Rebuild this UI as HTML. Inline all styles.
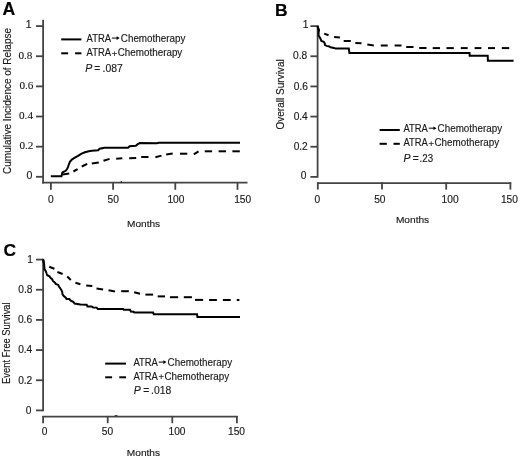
<!DOCTYPE html>
<html><head><meta charset="utf-8"><style>
html,body{margin:0;padding:0;background:#fff;}
svg{display:block;filter:blur(0.35px);}
</style></head><body>
<svg width="520" height="458" viewBox="0 0 520 458">
<rect width="520" height="458" fill="#fff"/>
<text x="2.5" y="14.9" font-family='"Liberation Sans", sans-serif' font-size="17.6" font-weight="bold" font-style="normal" text-anchor="start" fill="#000" stroke="#000" stroke-width="0.2">A</text>
<line x1="43.1" y1="19.8" x2="43.1" y2="183.6" stroke="#444444" stroke-width="1.8"/>
<line x1="42.2" y1="182.7" x2="247.5" y2="182.7" stroke="#444444" stroke-width="1.8"/>
<line x1="36.0" y1="26.1" x2="43.1" y2="26.1" stroke="#444444" stroke-width="1.8"/>
<line x1="36.0" y1="56.24" x2="43.1" y2="56.24" stroke="#444444" stroke-width="1.8"/>
<line x1="36.0" y1="86.38" x2="43.1" y2="86.38" stroke="#444444" stroke-width="1.8"/>
<line x1="36.0" y1="116.52000000000001" x2="43.1" y2="116.52000000000001" stroke="#444444" stroke-width="1.8"/>
<line x1="36.0" y1="146.66" x2="43.1" y2="146.66" stroke="#444444" stroke-width="1.8"/>
<line x1="36.0" y1="176.79999999999998" x2="43.1" y2="176.79999999999998" stroke="#444444" stroke-width="1.8"/>
<text x="32.4" y="58.64" font-family='"Liberation Serif", serif' font-size="11.2" font-weight="normal" font-style="normal" text-anchor="end" fill="#1a1a1a" stroke="#1a1a1a" stroke-width="0.12" textLength="14" lengthAdjust="spacingAndGlyphs">0.8</text>
<text x="33.4" y="88.78" font-family='"Liberation Serif", serif' font-size="11.2" font-weight="normal" font-style="normal" text-anchor="end" fill="#1a1a1a" stroke="#1a1a1a" stroke-width="0.12" textLength="14" lengthAdjust="spacingAndGlyphs">0.6</text>
<text x="33.0" y="118.92000000000002" font-family='"Liberation Serif", serif' font-size="11.2" font-weight="normal" font-style="normal" text-anchor="end" fill="#1a1a1a" stroke="#1a1a1a" stroke-width="0.12" textLength="14" lengthAdjust="spacingAndGlyphs">0.4</text>
<text x="33.4" y="149.06" font-family='"Liberation Serif", serif' font-size="11.2" font-weight="normal" font-style="normal" text-anchor="end" fill="#1a1a1a" stroke="#1a1a1a" stroke-width="0.12" textLength="14" lengthAdjust="spacingAndGlyphs">0.2</text>
<text x="31.6" y="27.7" font-family='"Liberation Sans", sans-serif' font-size="10.4" font-weight="normal" font-style="normal" text-anchor="end" fill="#1a1a1a" stroke="#1a1a1a" stroke-width="0.15">1</text>
<text x="32.4" y="178.6" font-family='"Liberation Sans", sans-serif' font-size="10.6" font-weight="normal" font-style="normal" text-anchor="end" fill="#1a1a1a" stroke="#1a1a1a" stroke-width="0.15">0</text>
<line x1="50.9" y1="182.7" x2="50.9" y2="189.8" stroke="#444444" stroke-width="1.8"/>
<line x1="113.1" y1="182.7" x2="113.1" y2="189.8" stroke="#444444" stroke-width="1.8"/>
<line x1="175.3" y1="182.7" x2="175.3" y2="189.8" stroke="#444444" stroke-width="1.8"/>
<line x1="237.50000000000003" y1="182.7" x2="237.50000000000003" y2="189.8" stroke="#444444" stroke-width="1.8"/>
<text x="50.8" y="203.0" font-family='"Liberation Sans", sans-serif' font-size="10.2" font-weight="normal" font-style="normal" text-anchor="middle" fill="#1a1a1a" stroke="#1a1a1a" stroke-width="0.15">0</text>
<text x="113.2" y="203.0" font-family='"Liberation Sans", sans-serif' font-size="10.2" font-weight="normal" font-style="normal" text-anchor="middle" fill="#1a1a1a" stroke="#1a1a1a" stroke-width="0.15">50</text>
<text x="175.9" y="203.0" font-family='"Liberation Sans", sans-serif' font-size="10.2" font-weight="normal" font-style="normal" text-anchor="middle" fill="#1a1a1a" stroke="#1a1a1a" stroke-width="0.15">100</text>
<text x="242.7" y="203.0" font-family='"Liberation Sans", sans-serif' font-size="10.2" font-weight="normal" font-style="normal" text-anchor="middle" fill="#1a1a1a" stroke="#1a1a1a" stroke-width="0.15">150</text>
<text x="127.0" y="227.2" font-family='"Liberation Sans", sans-serif' font-size="9.8" font-weight="normal" font-style="normal" text-anchor="start" fill="#1a1a1a" stroke="#1a1a1a" stroke-width="0.15" textLength="33.1" lengthAdjust="spacingAndGlyphs">Months</text>
<text x="10.9" y="173.9" font-family='"Liberation Sans", sans-serif' font-size="10.4" font-weight="normal" font-style="normal" text-anchor="start" fill="#1a1a1a" stroke="#1a1a1a" stroke-width="0.15" textLength="145.9" lengthAdjust="spacingAndGlyphs" transform="rotate(-90 10.9 173.9)">Cumulative Incidence of Relapse</text>
<line x1="61.199999999999996" y1="39.4" x2="81.4" y2="39.4" stroke="#000" stroke-width="2"/>
<line x1="61.199999999999996" y1="53.3" x2="68.10000000000001" y2="53.3" stroke="#000" stroke-width="2"/>
<line x1="75.1" y1="53.3" x2="81.4" y2="53.3" stroke="#000" stroke-width="2"/>
<text x="86.6" y="41.8" font-family='"Liberation Sans", sans-serif' font-size="10.0" font-weight="normal" font-style="normal" text-anchor="start" fill="#1a1a1a" stroke="#1a1a1a" stroke-width="0.15" textLength="24.5" lengthAdjust="spacingAndGlyphs">ATRA</text>
<line x1="111.89999999999999" y1="38.099999999999994" x2="117.49999999999999" y2="38.099999999999994" stroke="#333" stroke-width="1.25"/>
<polygon points="116.6,36.3 119.69999999999999,38.099999999999994 116.6,39.89999999999999" fill="#000"/>
<text x="120.8" y="41.8" font-family='"Liberation Sans", sans-serif' font-size="10.0" font-weight="normal" font-style="normal" text-anchor="start" fill="#1a1a1a" stroke="#1a1a1a" stroke-width="0.15" textLength="64.6" lengthAdjust="spacingAndGlyphs">Chemotherapy</text>
<text x="86.6" y="55.7" font-family='"Liberation Sans", sans-serif' font-size="10.0" font-weight="normal" font-style="normal" text-anchor="start" fill="#1a1a1a" stroke="#1a1a1a" stroke-width="0.15" textLength="24.5" lengthAdjust="spacingAndGlyphs">ATRA</text>
<text x="114.39999999999999" y="56.5" font-family='"Liberation Sans", sans-serif' font-size="9.4" font-weight="normal" font-style="normal" text-anchor="middle" fill="#1a1a1a" stroke="#1a1a1a" stroke-width="0.15">+</text>
<text x="117.69999999999999" y="55.7" font-family='"Liberation Sans", sans-serif' font-size="10.0" font-weight="normal" font-style="normal" text-anchor="start" fill="#1a1a1a" stroke="#1a1a1a" stroke-width="0.15" textLength="64.6" lengthAdjust="spacingAndGlyphs">Chemotherapy</text>
<text x="85.3" y="71.9" font-family='"Liberation Sans", sans-serif' font-size="10.5" font-weight="normal" font-style="italic" text-anchor="start" fill="#1a1a1a" stroke="#1a1a1a" stroke-width="0.15">P</text>
<text x="94.2" y="71.9" font-family='"Liberation Sans", sans-serif' font-size="10.3" font-weight="normal" font-style="normal" text-anchor="start" fill="#1a1a1a" stroke="#1a1a1a" stroke-width="0.15">=</text>
<text x="102.6" y="71.9" font-family='"Liberation Sans", sans-serif' font-size="10.5" font-weight="normal" font-style="normal" text-anchor="start" fill="#1a1a1a" stroke="#1a1a1a" stroke-width="0.15" textLength="20.3" lengthAdjust="spacingAndGlyphs">.087</text>
<polyline points="50.8,176.2 61.5,176.2 62.2,173.1 62.6,172.3 65.7,170.8 67.2,168.8 68,166.9 69.2,163.5 69.9,161.9 71.8,159.6 74.9,157.7 78,155.8 81.1,153.8 84.9,152.3 88.8,151.2 91.8,150.8 98.1,150.2 99.6,148.8 103.5,148.1 104.2,147.7 128.1,147.7 129.6,146.2 135.8,145.8 137.7,144.2 140,143.1 156.9,143.2 158.8,142.8 240,142.8" fill="none" stroke="#000" stroke-width="2.0" stroke-linejoin="miter"/>
<polyline points="62.6,174.6 69.2,173.5" fill="none" stroke="#000" stroke-width="2.0" stroke-linecap="butt"/>
<polyline points="73.4,171.5 77.6,169.2" fill="none" stroke="#000" stroke-width="2.0" stroke-linecap="butt"/>
<polyline points="81.8,166.5 87.2,163.8" fill="none" stroke="#000" stroke-width="2.0" stroke-linecap="butt"/>
<polyline points="91.8,163.6 98.8,162.4" fill="none" stroke="#000" stroke-width="2.0" stroke-linecap="butt"/>
<polyline points="103.5,160.8 109.6,158.9" fill="none" stroke="#000" stroke-width="2.0" stroke-linecap="butt"/>
<polyline points="116.2,158.7 122.3,158.2" fill="none" stroke="#000" stroke-width="2.0" stroke-linecap="butt"/>
<polyline points="129.2,158.3 136.2,158.1" fill="none" stroke="#000" stroke-width="2.0" stroke-linecap="butt"/>
<polyline points="141.2,157.0 148.5,157.0" fill="none" stroke="#000" stroke-width="2.0" stroke-linecap="butt"/>
<polyline points="155.4,157.2 161.5,155.6" fill="none" stroke="#000" stroke-width="2.0" stroke-linecap="butt"/>
<polyline points="166.2,154.6 172.7,153.6" fill="none" stroke="#000" stroke-width="2.0" stroke-linecap="butt"/>
<polyline points="180,153.7 187.3,153.7" fill="none" stroke="#000" stroke-width="2.0" stroke-linecap="butt"/>
<polyline points="193.8,154.4 198.5,151.3" fill="none" stroke="#000" stroke-width="2.0" stroke-linecap="butt"/>
<polyline points="204.8,151.3 212.1,151.3" fill="none" stroke="#000" stroke-width="2.0" stroke-linecap="butt"/>
<polyline points="218.6,151.3 226,151.3" fill="none" stroke="#000" stroke-width="2.0" stroke-linecap="butt"/>
<polyline points="232.4,151.3 239.8,151.3" fill="none" stroke="#000" stroke-width="2.0" stroke-linecap="butt"/>
<text x="275.0" y="16.1" font-family='"Liberation Sans", sans-serif' font-size="17.4" font-weight="bold" font-style="normal" text-anchor="start" fill="#000" stroke="#000" stroke-width="0.2">B</text>
<line x1="317.6" y1="25.3" x2="317.6" y2="177.6" stroke="#444444" stroke-width="1.8"/>
<line x1="310.4" y1="26.1" x2="317.6" y2="26.1" stroke="#444444" stroke-width="1.8"/>
<line x1="310.4" y1="56.260000000000005" x2="317.6" y2="56.260000000000005" stroke="#444444" stroke-width="1.8"/>
<line x1="310.4" y1="86.42" x2="317.6" y2="86.42" stroke="#444444" stroke-width="1.8"/>
<line x1="310.4" y1="116.58000000000001" x2="317.6" y2="116.58000000000001" stroke="#444444" stroke-width="1.8"/>
<line x1="310.4" y1="146.74" x2="317.6" y2="146.74" stroke="#444444" stroke-width="1.8"/>
<line x1="310.4" y1="176.9" x2="317.6" y2="176.9" stroke="#444444" stroke-width="1.8"/>
<text x="308.3" y="28.0" font-family='"Liberation Sans", sans-serif' font-size="10.2" font-weight="normal" font-style="normal" text-anchor="end" fill="#1a1a1a" stroke="#1a1a1a" stroke-width="0.15">1</text>
<text x="307.2" y="59.260000000000005" font-family='"Liberation Sans", sans-serif' font-size="10.2" font-weight="normal" font-style="normal" text-anchor="end" fill="#1a1a1a" stroke="#1a1a1a" stroke-width="0.15">0.8</text>
<text x="308.0" y="89.62" font-family='"Liberation Sans", sans-serif' font-size="10.2" font-weight="normal" font-style="normal" text-anchor="end" fill="#1a1a1a" stroke="#1a1a1a" stroke-width="0.15">0.6</text>
<text x="307.8" y="119.78000000000002" font-family='"Liberation Sans", sans-serif' font-size="10.2" font-weight="normal" font-style="normal" text-anchor="end" fill="#1a1a1a" stroke="#1a1a1a" stroke-width="0.15">0.4</text>
<text x="307.8" y="149.94" font-family='"Liberation Sans", sans-serif' font-size="10.2" font-weight="normal" font-style="normal" text-anchor="end" fill="#1a1a1a" stroke="#1a1a1a" stroke-width="0.15">0.2</text>
<text x="306.4" y="179.3" font-family='"Liberation Sans", sans-serif' font-size="10.2" font-weight="normal" font-style="normal" text-anchor="end" fill="#1a1a1a" stroke="#1a1a1a" stroke-width="0.15">0</text>
<line x1="317.0" y1="183.1" x2="511.2" y2="183.1" stroke="#444444" stroke-width="1.8"/>
<line x1="317.8" y1="182.3" x2="317.8" y2="189.6" stroke="#444444" stroke-width="1.8"/>
<line x1="382.0" y1="182.3" x2="382.0" y2="189.6" stroke="#444444" stroke-width="1.8"/>
<line x1="446.20000000000005" y1="182.3" x2="446.20000000000005" y2="189.6" stroke="#444444" stroke-width="1.8"/>
<line x1="510.40000000000003" y1="182.3" x2="510.40000000000003" y2="189.6" stroke="#444444" stroke-width="1.8"/>
<text x="317.4" y="202.8" font-family='"Liberation Sans", sans-serif' font-size="10.2" font-weight="normal" font-style="normal" text-anchor="middle" fill="#1a1a1a" stroke="#1a1a1a" stroke-width="0.15">0</text>
<text x="379.8" y="202.8" font-family='"Liberation Sans", sans-serif' font-size="10.2" font-weight="normal" font-style="normal" text-anchor="middle" fill="#1a1a1a" stroke="#1a1a1a" stroke-width="0.15">50</text>
<text x="450.1" y="202.8" font-family='"Liberation Sans", sans-serif' font-size="10.2" font-weight="normal" font-style="normal" text-anchor="middle" fill="#1a1a1a" stroke="#1a1a1a" stroke-width="0.15">100</text>
<text x="509.4" y="202.8" font-family='"Liberation Sans", sans-serif' font-size="10.2" font-weight="normal" font-style="normal" text-anchor="middle" fill="#1a1a1a" stroke="#1a1a1a" stroke-width="0.15">150</text>
<text x="395.9" y="223.2" font-family='"Liberation Sans", sans-serif' font-size="9.8" font-weight="normal" font-style="normal" text-anchor="start" fill="#1a1a1a" stroke="#1a1a1a" stroke-width="0.15" textLength="33.3" lengthAdjust="spacingAndGlyphs">Months</text>
<text x="284.5" y="129.6" font-family='"Liberation Sans", sans-serif' font-size="10.4" font-weight="normal" font-style="normal" text-anchor="start" fill="#1a1a1a" stroke="#1a1a1a" stroke-width="0.15" textLength="70.3" lengthAdjust="spacingAndGlyphs" transform="rotate(-90 284.5 129.6)">Overall Survival</text>
<line x1="379.6" y1="130.0" x2="399.8" y2="130.0" stroke="#000" stroke-width="2"/>
<line x1="379.6" y1="143.8" x2="386.8" y2="143.8" stroke="#000" stroke-width="2"/>
<line x1="393.50000000000006" y1="143.8" x2="399.8" y2="143.8" stroke="#000" stroke-width="2"/>
<text x="403.4" y="131.9" font-family='"Liberation Sans", sans-serif' font-size="10.0" font-weight="normal" font-style="normal" text-anchor="start" fill="#1a1a1a" stroke="#1a1a1a" stroke-width="0.15" textLength="24.5" lengthAdjust="spacingAndGlyphs">ATRA</text>
<line x1="428.7" y1="128.20000000000002" x2="434.3" y2="128.20000000000002" stroke="#333" stroke-width="1.25"/>
<polygon points="433.4,126.40000000000002 436.5,128.20000000000002 433.4,130.00000000000003" fill="#000"/>
<text x="437.59999999999997" y="131.9" font-family='"Liberation Sans", sans-serif' font-size="10.0" font-weight="normal" font-style="normal" text-anchor="start" fill="#1a1a1a" stroke="#1a1a1a" stroke-width="0.15" textLength="64.6" lengthAdjust="spacingAndGlyphs">Chemotherapy</text>
<text x="403.4" y="145.8" font-family='"Liberation Sans", sans-serif' font-size="10.0" font-weight="normal" font-style="normal" text-anchor="start" fill="#1a1a1a" stroke="#1a1a1a" stroke-width="0.15" textLength="24.5" lengthAdjust="spacingAndGlyphs">ATRA</text>
<text x="431.2" y="146.60000000000002" font-family='"Liberation Sans", sans-serif' font-size="9.4" font-weight="normal" font-style="normal" text-anchor="middle" fill="#1a1a1a" stroke="#1a1a1a" stroke-width="0.15">+</text>
<text x="434.5" y="145.8" font-family='"Liberation Sans", sans-serif' font-size="10.0" font-weight="normal" font-style="normal" text-anchor="start" fill="#1a1a1a" stroke="#1a1a1a" stroke-width="0.15" textLength="64.6" lengthAdjust="spacingAndGlyphs">Chemotherapy</text>
<text x="403.6" y="161.6" font-family='"Liberation Sans", sans-serif' font-size="10.5" font-weight="normal" font-style="italic" text-anchor="start" fill="#1a1a1a" stroke="#1a1a1a" stroke-width="0.15">P</text>
<text x="412.7" y="161.6" font-family='"Liberation Sans", sans-serif' font-size="10.3" font-weight="normal" font-style="normal" text-anchor="start" fill="#1a1a1a" stroke="#1a1a1a" stroke-width="0.15">=</text>
<text x="419.6" y="161.6" font-family='"Liberation Sans", sans-serif' font-size="10.5" font-weight="normal" font-style="normal" text-anchor="start" fill="#1a1a1a" stroke="#1a1a1a" stroke-width="0.15" textLength="13.5" lengthAdjust="spacingAndGlyphs">.23</text>
<polyline points="317.5,26.1 318.3,28.5 318.8,30.2 318.6,33 318.5,35.4 319.4,36.8 320.5,38.8 321.4,41 323.7,41.9 324.8,43.3 324.9,45 326.5,45.9 329.3,46.4 330.5,47.3 334,47.9 335.6,48.6 348.8,48.6 349.4,52.9 469.5,53.0 469.7,55.8 487.7,55.8 487.9,60.8 513.6,60.8" fill="none" stroke="#000" stroke-width="2.0" stroke-linejoin="miter"/>
<polyline points="317.5,26.1 318.3,28.5 318.8,30.2 319.0,31.5" fill="none" stroke="#000" stroke-width="2.0" stroke-linecap="butt"/>
<polyline points="324.2,33.6 328.6,35.2" fill="none" stroke="#000" stroke-width="2.0" stroke-linecap="butt"/>
<polyline points="334.1,36.9 339.9,37.4" fill="none" stroke="#000" stroke-width="2.0" stroke-linecap="butt"/>
<polyline points="343.7,41 350.8,41" fill="none" stroke="#000" stroke-width="2.0" stroke-linecap="butt"/>
<polyline points="355.4,42.9 361.5,43.3" fill="none" stroke="#000" stroke-width="2.0" stroke-linecap="butt"/>
<polyline points="367.3,44.5 373.8,45.4" fill="none" stroke="#000" stroke-width="2.0" stroke-linecap="butt"/>
<polyline points="380.8,45.5 387.7,45.5" fill="none" stroke="#000" stroke-width="2.0" stroke-linecap="butt"/>
<polyline points="394.6,45.5 401.5,45.5" fill="none" stroke="#000" stroke-width="2.0" stroke-linecap="butt"/>
<polyline points="406.2,47.0 413.5,47.1" fill="none" stroke="#000" stroke-width="2.0" stroke-linecap="butt"/>
<polyline points="419.2,48.0 426.5,48.1" fill="none" stroke="#000" stroke-width="2.0" stroke-linecap="butt"/>
<polyline points="432.7,48.1 440,48.1" fill="none" stroke="#000" stroke-width="2.0" stroke-linecap="butt"/>
<polyline points="446.5,48.1 453.8,48.1" fill="none" stroke="#000" stroke-width="2.0" stroke-linecap="butt"/>
<polyline points="460.8,48.1 467.7,48.1" fill="none" stroke="#000" stroke-width="2.0" stroke-linecap="butt"/>
<polyline points="474.6,48.1 481.4,48.1" fill="none" stroke="#000" stroke-width="2.0" stroke-linecap="butt"/>
<polyline points="488.0,48.1 495,48.1" fill="none" stroke="#000" stroke-width="2.0" stroke-linecap="butt"/>
<polyline points="501.8,48.1 509.2,48.1" fill="none" stroke="#000" stroke-width="2.0" stroke-linecap="butt"/>
<text x="3.4" y="255.9" font-family='"Liberation Sans", sans-serif' font-size="17.4" font-weight="bold" font-style="normal" text-anchor="start" fill="#000" stroke="#000" stroke-width="0.2">C</text>
<line x1="43.1" y1="258.8" x2="43.1" y2="411.2" stroke="#444444" stroke-width="1.8"/>
<line x1="36.0" y1="259.6" x2="43.1" y2="259.6" stroke="#444444" stroke-width="1.8"/>
<line x1="36.0" y1="289.76000000000005" x2="43.1" y2="289.76000000000005" stroke="#444444" stroke-width="1.8"/>
<line x1="36.0" y1="319.92" x2="43.1" y2="319.92" stroke="#444444" stroke-width="1.8"/>
<line x1="36.0" y1="350.08000000000004" x2="43.1" y2="350.08000000000004" stroke="#444444" stroke-width="1.8"/>
<line x1="36.0" y1="380.24" x2="43.1" y2="380.24" stroke="#444444" stroke-width="1.8"/>
<line x1="36.0" y1="410.40000000000003" x2="43.1" y2="410.40000000000003" stroke="#444444" stroke-width="1.8"/>
<text x="33.0" y="263.0" font-family='"Liberation Sans", sans-serif' font-size="10.2" font-weight="normal" font-style="normal" text-anchor="end" fill="#1a1a1a" stroke="#1a1a1a" stroke-width="0.15">1</text>
<text x="32.4" y="293.16" font-family='"Liberation Sans", sans-serif' font-size="10.2" font-weight="normal" font-style="normal" text-anchor="end" fill="#1a1a1a" stroke="#1a1a1a" stroke-width="0.15">0.8</text>
<text x="32.1" y="323.32" font-family='"Liberation Sans", sans-serif' font-size="10.2" font-weight="normal" font-style="normal" text-anchor="end" fill="#1a1a1a" stroke="#1a1a1a" stroke-width="0.15">0.6</text>
<text x="32.3" y="353.48" font-family='"Liberation Sans", sans-serif' font-size="10.2" font-weight="normal" font-style="normal" text-anchor="end" fill="#1a1a1a" stroke="#1a1a1a" stroke-width="0.15">0.4</text>
<text x="32.3" y="383.64" font-family='"Liberation Sans", sans-serif' font-size="10.2" font-weight="normal" font-style="normal" text-anchor="end" fill="#1a1a1a" stroke="#1a1a1a" stroke-width="0.15">0.2</text>
<text x="31.3" y="413.8" font-family='"Liberation Sans", sans-serif' font-size="10.2" font-weight="normal" font-style="normal" text-anchor="end" fill="#1a1a1a" stroke="#1a1a1a" stroke-width="0.15">0</text>
<line x1="42.3" y1="416.7" x2="237.7" y2="416.7" stroke="#444444" stroke-width="1.8"/>
<line x1="43.1" y1="415.9" x2="43.1" y2="423.2" stroke="#444444" stroke-width="1.8"/>
<line x1="107.69999999999999" y1="415.9" x2="107.69999999999999" y2="423.2" stroke="#444444" stroke-width="1.8"/>
<line x1="172.29999999999998" y1="415.9" x2="172.29999999999998" y2="423.2" stroke="#444444" stroke-width="1.8"/>
<line x1="236.89999999999998" y1="415.9" x2="236.89999999999998" y2="423.2" stroke="#444444" stroke-width="1.8"/>
<text x="44.5" y="434.6" font-family='"Liberation Sans", sans-serif' font-size="10.2" font-weight="normal" font-style="normal" text-anchor="middle" fill="#1a1a1a" stroke="#1a1a1a" stroke-width="0.15">0</text>
<text x="107.4" y="434.6" font-family='"Liberation Sans", sans-serif' font-size="10.2" font-weight="normal" font-style="normal" text-anchor="middle" fill="#1a1a1a" stroke="#1a1a1a" stroke-width="0.15">50</text>
<text x="177.0" y="434.6" font-family='"Liberation Sans", sans-serif' font-size="10.2" font-weight="normal" font-style="normal" text-anchor="middle" fill="#1a1a1a" stroke="#1a1a1a" stroke-width="0.15">100</text>
<text x="236.5" y="434.6" font-family='"Liberation Sans", sans-serif' font-size="10.2" font-weight="normal" font-style="normal" text-anchor="middle" fill="#1a1a1a" stroke="#1a1a1a" stroke-width="0.15">150</text>
<text x="126.8" y="456.4" font-family='"Liberation Sans", sans-serif' font-size="9.8" font-weight="normal" font-style="normal" text-anchor="start" fill="#1a1a1a" stroke="#1a1a1a" stroke-width="0.15" textLength="33.3" lengthAdjust="spacingAndGlyphs">Months</text>
<text x="9.8" y="383.9" font-family='"Liberation Sans", sans-serif' font-size="10.4" font-weight="normal" font-style="normal" text-anchor="start" fill="#1a1a1a" stroke="#1a1a1a" stroke-width="0.15" textLength="81.5" lengthAdjust="spacingAndGlyphs" transform="rotate(-90 9.8 383.9)">Event Free Survival</text>
<line x1="105.2" y1="363.6" x2="126.0" y2="363.6" stroke="#000" stroke-width="2"/>
<line x1="105.2" y1="377.3" x2="112.10000000000001" y2="377.3" stroke="#000" stroke-width="2"/>
<line x1="119.3" y1="377.3" x2="126.0" y2="377.3" stroke="#000" stroke-width="2"/>
<text x="133.4" y="365.8" font-family='"Liberation Sans", sans-serif' font-size="10.0" font-weight="normal" font-style="normal" text-anchor="start" fill="#1a1a1a" stroke="#1a1a1a" stroke-width="0.15" textLength="24.5" lengthAdjust="spacingAndGlyphs">ATRA</text>
<line x1="158.70000000000002" y1="362.1" x2="164.3" y2="362.1" stroke="#333" stroke-width="1.25"/>
<polygon points="163.4,360.3 166.5,362.1 163.4,363.90000000000003" fill="#000"/>
<text x="167.60000000000002" y="365.8" font-family='"Liberation Sans", sans-serif' font-size="10.0" font-weight="normal" font-style="normal" text-anchor="start" fill="#1a1a1a" stroke="#1a1a1a" stroke-width="0.15" textLength="64.6" lengthAdjust="spacingAndGlyphs">Chemotherapy</text>
<text x="133.4" y="379.6" font-family='"Liberation Sans", sans-serif' font-size="10.0" font-weight="normal" font-style="normal" text-anchor="start" fill="#1a1a1a" stroke="#1a1a1a" stroke-width="0.15" textLength="24.5" lengthAdjust="spacingAndGlyphs">ATRA</text>
<text x="161.20000000000002" y="380.40000000000003" font-family='"Liberation Sans", sans-serif' font-size="9.4" font-weight="normal" font-style="normal" text-anchor="middle" fill="#1a1a1a" stroke="#1a1a1a" stroke-width="0.15">+</text>
<text x="164.5" y="379.6" font-family='"Liberation Sans", sans-serif' font-size="10.0" font-weight="normal" font-style="normal" text-anchor="start" fill="#1a1a1a" stroke="#1a1a1a" stroke-width="0.15" textLength="64.6" lengthAdjust="spacingAndGlyphs">Chemotherapy</text>
<text x="133.7" y="394.2" font-family='"Liberation Sans", sans-serif' font-size="10.5" font-weight="normal" font-style="italic" text-anchor="start" fill="#1a1a1a" stroke="#1a1a1a" stroke-width="0.15">P</text>
<text x="143.3" y="394.2" font-family='"Liberation Sans", sans-serif' font-size="10.3" font-weight="normal" font-style="normal" text-anchor="start" fill="#1a1a1a" stroke="#1a1a1a" stroke-width="0.15">=</text>
<text x="151.0" y="394.2" font-family='"Liberation Sans", sans-serif' font-size="10.5" font-weight="normal" font-style="normal" text-anchor="start" fill="#1a1a1a" stroke="#1a1a1a" stroke-width="0.15" textLength="20.2" lengthAdjust="spacingAndGlyphs">.018</text>
<polyline points="43.1,259.6 43.7,262 44.2,265 44.5,269 45.9,271.4 46.5,273.3 47.2,275.3 49.5,276.2 50.5,277.9 52.1,279.2 53.1,281.2 55,282.6 55.7,283.9 58.3,284.9 58.9,286.5 60.2,288.2 61.2,289.8 62.2,291.8 62.5,294.4 63.8,296 65.8,297.7 66.5,299 69.4,299 70.7,300.6 73.3,301.9 74.6,303.6 77.3,303.9 80.5,304.6 86.7,304.8 87.5,306.5 91.7,306.6 93.2,307.4 96.7,307.6 97.8,309 123.1,309 123.8,309.8 130,309.8 130.8,311.5 133.5,311.7 134.2,312.5 153.1,312.5 153.8,314.2 197,314.2 197.4,316.9 240,316.9" fill="none" stroke="#000" stroke-width="2.0" stroke-linejoin="miter"/>
<polyline points="43.1,259.6 43.7,262 44.2,265" fill="none" stroke="#000" stroke-width="2.0" stroke-linecap="butt"/>
<polyline points="49.2,266.8 54.4,268.8" fill="none" stroke="#000" stroke-width="2.0" stroke-linecap="butt"/>
<polyline points="57.4,272 62.6,274" fill="none" stroke="#000" stroke-width="2.0" stroke-linecap="butt"/>
<polyline points="67.3,276.5 70.8,280" fill="none" stroke="#000" stroke-width="2.0" stroke-linecap="butt"/>
<polyline points="75.4,282.7 80.4,284.2" fill="none" stroke="#000" stroke-width="2.0" stroke-linecap="butt"/>
<polyline points="86.2,285.6 92.3,285.9" fill="none" stroke="#000" stroke-width="2.0" stroke-linecap="butt"/>
<polyline points="96.5,288.5 103.1,289.6" fill="none" stroke="#000" stroke-width="2.0" stroke-linecap="butt"/>
<polyline points="108.5,290.3 115,291.4" fill="none" stroke="#000" stroke-width="2.0" stroke-linecap="butt"/>
<polyline points="121.2,291.2 128.8,291.2" fill="none" stroke="#000" stroke-width="2.0" stroke-linecap="butt"/>
<polyline points="134.2,292.2 140,293.8" fill="none" stroke="#000" stroke-width="2.0" stroke-linecap="butt"/>
<polyline points="145.4,294.6 153.1,294.6" fill="none" stroke="#000" stroke-width="2.0" stroke-linecap="butt"/>
<polyline points="157.7,296.4 165,296.4" fill="none" stroke="#000" stroke-width="2.0" stroke-linecap="butt"/>
<polyline points="170,297.2 178.1,297.2" fill="none" stroke="#000" stroke-width="2.0" stroke-linecap="butt"/>
<polyline points="183.8,297.2 191.9,297.2" fill="none" stroke="#000" stroke-width="2.0" stroke-linecap="butt"/>
<polyline points="195,299.9 203.1,299.9" fill="none" stroke="#000" stroke-width="2.0" stroke-linecap="butt"/>
<polyline points="209.1,300 216.9,300" fill="none" stroke="#000" stroke-width="2.0" stroke-linecap="butt"/>
<polyline points="222.9,300 230.7,300" fill="none" stroke="#000" stroke-width="2.0" stroke-linecap="butt"/>
<polyline points="236.8,300 239.4,300" fill="none" stroke="#000" stroke-width="2.0" stroke-linecap="butt"/>
<ellipse cx="121.3" cy="182.0" rx="0.9" ry="0.8" fill="#111"/>
<ellipse cx="116.1" cy="415.6" rx="1.6" ry="0.7" fill="#333"/>
</svg>
</body></html>
